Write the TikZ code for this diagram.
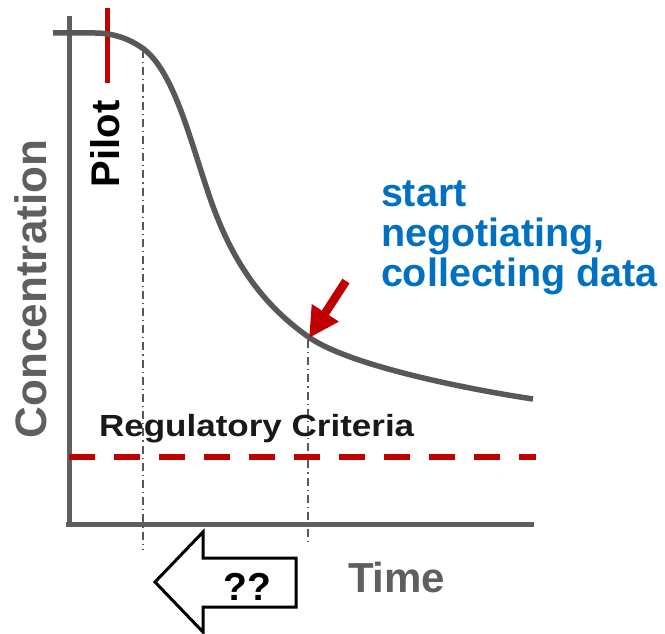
\documentclass[tikz,border=0pt]{standalone}
\usepackage{fontspec}
\setmainfont{Liberation Sans}
\usetikzlibrary{arrows.meta}
\definecolor{axisgray}{HTML}{5F5F5F}
\definecolor{curvegray}{HTML}{585858}
\definecolor{darkred}{HTML}{C00000}
\definecolor{midblue}{HTML}{0070C0}
\begin{document}
\begin{tikzpicture}[x=1pt,y=-1pt,
  axis/.style={draw=axisgray,line width=5pt},
  guide/.style={draw=curvegray,line width=1.4pt,dash pattern=on 8pt off 4pt on 1.2pt off 4pt},
  lbl/.style={inner sep=0pt,outer sep=0pt,font=\bfseries},
  redline/.style={draw=darkred,line width=5pt},
  critline/.style={draw=darkred,line width=6pt,dash pattern=on 26pt off 19pt},
  bigarrow/.style={draw=black,fill=white,line width=3pt,line join=miter}]
\useasboundingbox (0,0) rectangle (665,634);

% axes
\coordinate (ytop) at (69,16);
\coordinate (ybot) at (69,527);
\coordinate (xleft) at (66,524);
\coordinate (xright) at (534,524);
\draw[axis] (ytop) -- (ybot);
\draw[axis] (xleft) -- (xright);

% guide lines
\coordinate (g1t) at (143,50);
\coordinate (g1b) at (143,550);
\coordinate (g2t) at (308,340);
\coordinate (g2b) at (308,546);
\draw[guide] (g1t) -- (g1b);
\draw[guide] (g2t) -- (g2b);

% regulatory criteria line
\coordinate (cl) at (69,457);
\coordinate (cr) at (536,457);
\draw[critline] (cl) -- (cr);

% pilot marker
\coordinate (pt) at (107,8);
\coordinate (pb) at (107,83);
\draw[redline] (pt) -- (pb);

% curve
\draw[curvegray,line width=5.5pt] (53,33) -- (95,33)
  .. controls (115,33) and (132,40) .. (145,50)
  .. controls (175,75) and (190,140) .. (210,198)
  .. controls (228,250) and (255,300) .. (310,338)
  .. controls (350,365) and (460,388) .. (533,399);

% red arrow
\coordinate (as) at (346,281);
\coordinate (ae) at (309,338);
\draw[darkred,line width=8.5pt,-{Triangle[length=30pt,width=30pt]}] (as) -- (ae);

% big hollow arrow
\draw[bigarrow] (155,582) -- (203,532) -- (203,558) -- (296,558) -- (296,607) -- (203,607) -- (203,632) -- cycle;
\node[lbl,anchor=base,font=\bfseries\fontsize{39}{42}\selectfont] (qq) at (247,600) {??};

% labels
\node[lbl,rotate=90,text=axisgray,font=\bfseries\fontsize{44}{48}\selectfont] (conc) at (31,289) {Concentration};
\node[lbl,rotate=90,font=\bfseries\fontsize{40}{42}\selectfont] (pilot) at (105,144) {Pilot};
\node[lbl,anchor=base west,text=axisgray,font=\bfseries\fontsize{42}{46}\selectfont] (time) at (348,592) {Time};
\node[lbl,anchor=base west,text=black!90,font=\bfseries\fontsize{34}{38}\selectfont] (reg) at (99,436) {\scalebox{1.03}[0.9]{Regulatory Criteria}};
\node[lbl,anchor=base west,align=left,text=midblue,font=\bfseries\fontsize{39.5}{40}\selectfont] (neg) at (381,286) {start\\negotiating,\\collecting data};
\end{tikzpicture}
\end{document}
